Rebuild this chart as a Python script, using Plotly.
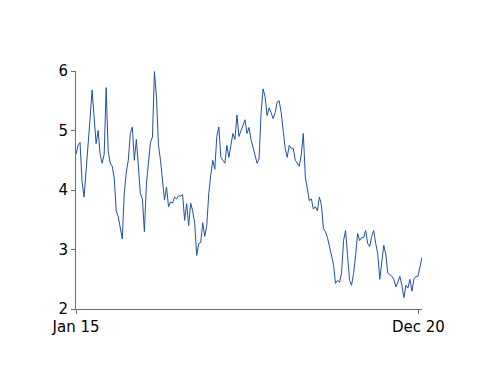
import pandas as pd
import plotly.graph_objects as go

# Series values (roughly every ~12.7 days, Jan 2015 - Dec 2020)
values = [
    4.60, 4.75, 4.80, 4.15, 3.88, 4.30, 4.65, 5.20, 5.68, 5.18,
    4.78, 5.00, 4.60, 4.45, 4.60, 5.72, 4.65, 4.45, 4.40, 4.20,
    3.65, 3.55, 3.35, 3.18, 3.95, 4.30, 4.50, 4.95, 5.06, 4.50,
    4.85, 4.30, 3.94, 3.85, 3.30, 4.10, 4.45, 4.80, 4.89, 5.99,
    5.55, 4.75, 4.50, 4.20, 3.83, 4.05, 3.72, 3.80, 3.78, 3.88,
    3.85, 3.90, 3.90, 3.92, 3.49, 3.77, 3.40, 3.78, 3.65, 3.44,
    2.90, 3.10, 3.12, 3.45, 3.22, 3.40, 3.94, 4.25, 4.50, 4.35,
    4.90, 5.06, 4.55, 4.50, 4.45, 4.75, 4.55, 4.75, 4.95, 4.85,
    5.26, 4.90, 5.00, 5.10, 5.18, 4.95, 5.05, 4.85, 4.70, 4.60,
    4.45, 4.52, 5.29, 5.70, 5.57, 5.25, 5.38, 5.30, 5.20, 5.30,
    5.48, 5.50, 5.30, 5.00, 4.70, 4.55, 4.75, 4.70, 4.70, 4.50,
    4.45, 4.40, 4.60, 4.95, 4.22, 4.00, 3.82, 3.85, 3.68, 3.72,
    3.65, 3.88, 3.75, 3.35, 3.30, 3.20, 3.05, 2.93, 2.75, 2.43,
    2.48, 2.45, 2.60, 3.15, 3.32, 2.90, 2.48, 2.40, 2.60, 2.90,
    3.27, 3.15, 3.20, 3.20, 3.32, 3.10, 3.05, 3.22, 3.32, 3.10,
    2.93, 2.50, 2.82, 3.07, 2.92, 2.60, 2.58, 2.55, 2.50, 2.37,
    2.45, 2.55, 2.40, 2.19, 2.40, 2.35, 2.50, 2.30, 2.50, 2.55,
    2.55, 2.70, 2.87,
]
dates = pd.date_range("2015-01-01", "2020-12-24", periods=len(values))

x_tick_vals = ["2015-01-01", "2020-12-01"]
x_tick_text = ["Jan 15", "Dec 20"]
y_tick_vals = [2, 3, 4, 5, 6]

fig = go.Figure(
    go.Scatter(
        x=dates,
        y=values,
        mode="lines",
        line=dict(color="#1f50a8", width=1),
        hoverinfo="skip",
    )
)

axis_color = "#6e6e6e"
fig.update_layout(
    width=500,
    height=386,
    margin=dict(l=68, r=86, t=63, b=85),
    paper_bgcolor="white",
    plot_bgcolor="white",
    showlegend=False,
    font=dict(family="DejaVu Sans", size=15, color="#000000"),
    xaxis=dict(
        showgrid=False,
        zeroline=False,
        showline=True,
        linecolor=axis_color,
        linewidth=1,
        ticks="outside",
        ticklen=4,
        tickcolor=axis_color,
        tickvals=x_tick_vals,
        ticktext=x_tick_text,
        range=[dates[0], dates[-1]],
    ),
    yaxis=dict(
        showgrid=False,
        zeroline=False,
        showline=True,
        linecolor=axis_color,
        linewidth=1,
        ticks="outside",
        ticklen=4,
        tickcolor=axis_color,
        tickvals=y_tick_vals,
        range=[2, 6],
    ),
)

fig.write_html("out.html")
